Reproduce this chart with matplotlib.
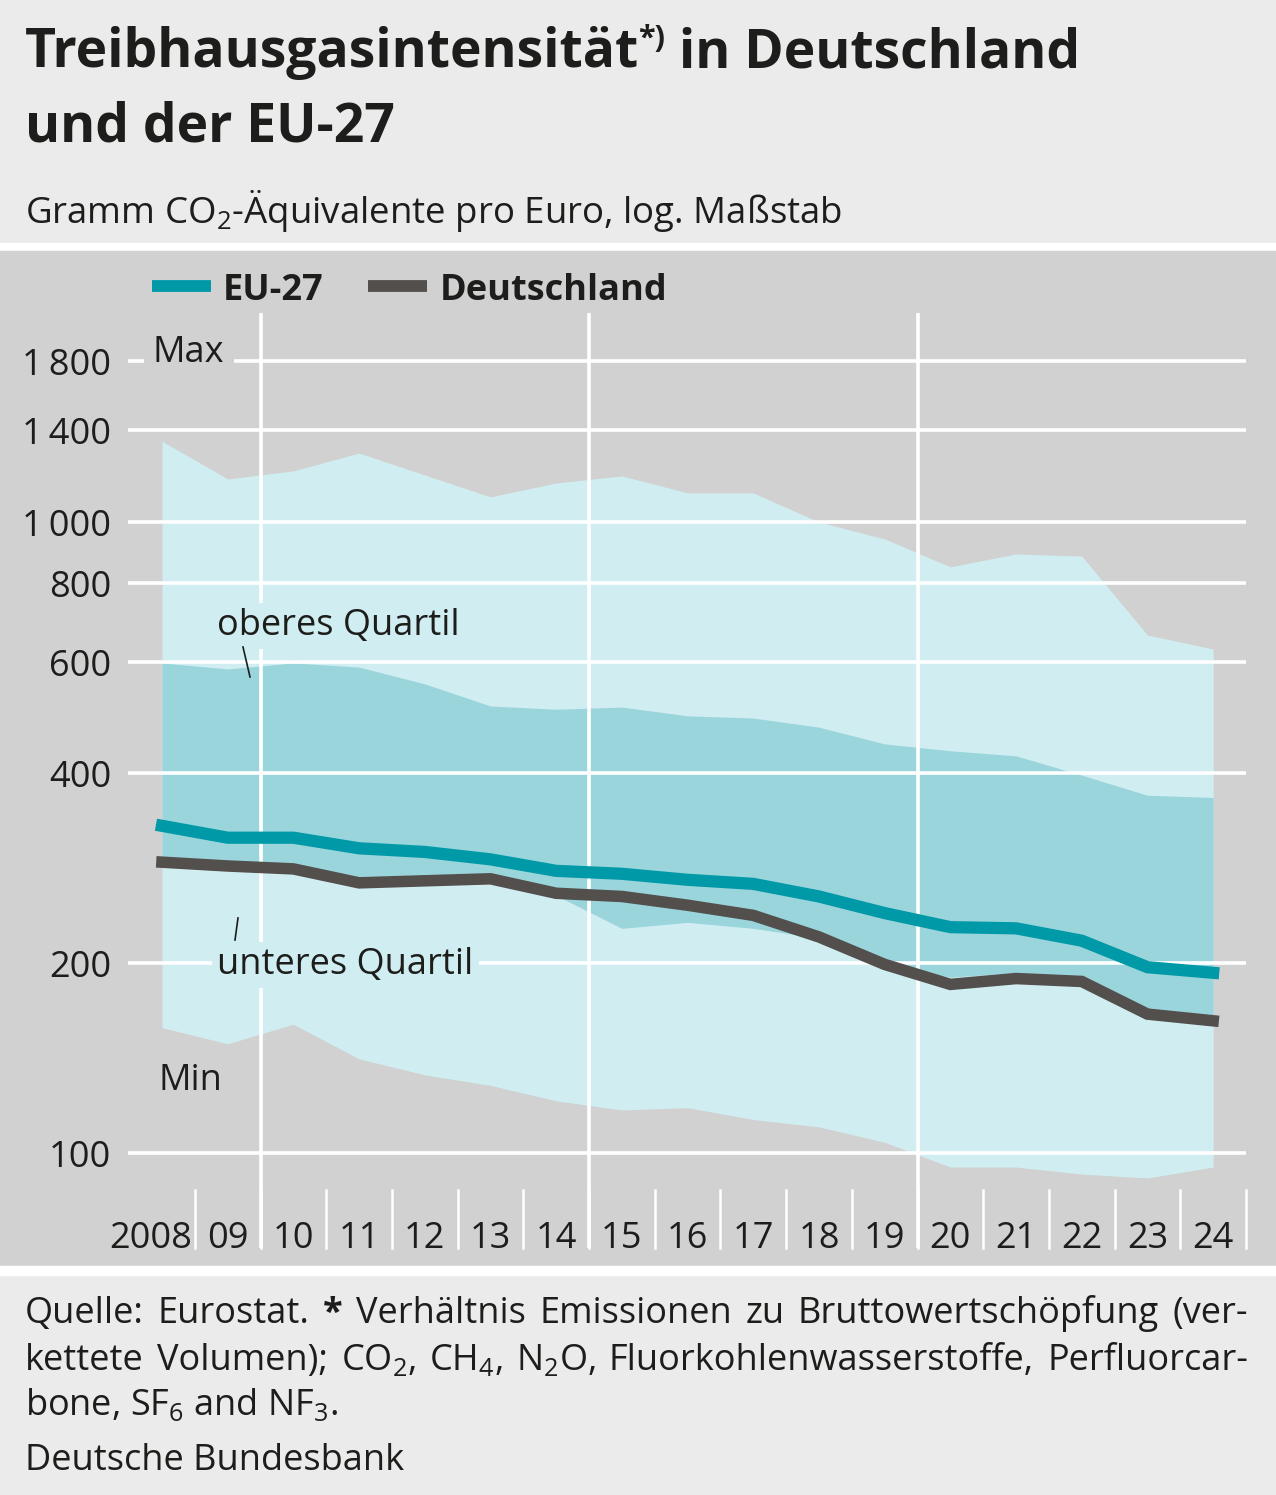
import numpy as np
import matplotlib
matplotlib.use("Agg")
import matplotlib.pyplot as plt
from matplotlib.patches import Rectangle
from matplotlib.lines import Line2D

plt.rcParams['font.family'] = ['Open Sans', 'DejaVu Sans']
plt.rcParams['mathtext.default'] = 'regular'

# data (Gramm CO2-Aequivalente pro Euro)
years = np.arange(2008, 2025)
eu27 = [330, 316, 316, 304, 300, 292, 280, 277, 271, 267, 255, 240, 228, 227, 217, 197, 193]
de = [289, 285, 282, 268, 270, 272, 258, 255, 247, 238, 220, 199, 185, 189, 187, 166, 162]
q_max = [1343, 1170, 1205, 1286, 1187, 1096, 1153, 1183, 1112, 1112, 1000, 940, 849, 890, 883, 662, 629]
q_upper = [598, 585, 598, 589, 554, 511, 505, 509, 493, 489, 473, 445, 434, 426, 397, 369, 366]
q_lower = [288, 284, 281, 267, 269, 271, 256, 227, 232, 227, 219, 198, 190, 193, 186, 165, 161]
q_min = [158, 149, 160, 141, 133, 128, 121, 117, 118, 113, 110, 104, 95, 95, 92.6, 91.3, 95]
yticks = [100, 200, 400, 600, 800, 1000, 1400, 1800]
ytick_labels = ['100', '200', '400', '600', '800', '1\u2009000', '1\u2009400', '1\u2009800']
xlabels = ['2008', '09', '10', '11', '12', '13', '14', '15', '16', '17', '18', '19',
           '20', '21', '22', '23', '24']

W, H = 1276, 1495
C_HEAD = '#ebebeb'
C_PANEL = '#d1d1d1'
C_LIGHT = '#d0eef1'
C_DARK = '#9bd5dc'
C_EU = '#0099a7'
C_DE = '#524f4d'
C_TXT = '#1d1d1b'
FS = 26

fig = plt.figure(figsize=(W / 100, H / 100), dpi=100)
fig.patch.set_facecolor(C_HEAD)


def fx(x):
    return x / W


def fy(y):
    return 1 - y / H


# background bands
fig.add_artist(Rectangle((0, fy(251)), 1, (251 - 243) / H, transform=fig.transFigure, color='white', zorder=0))
fig.add_artist(Rectangle((0, fy(1266)), 1, (1266 - 251) / H, transform=fig.transFigure, color=C_PANEL, zorder=0))
fig.add_artist(Rectangle((0, fy(1275)), 1, (1275 - 1266) / H, transform=fig.transFigure, color='white', zorder=0))

# title
r = fig.canvas.get_renderer()
t1 = fig.text(fx(25), fy(67), 'Treibhausgasintensität', fontsize=38.5, fontweight='bold',
              color=C_TXT, va='baseline')
bb = t1.get_window_extent(r)
t2 = fig.text(bb.x1 / W - 0.001, fy(47), '*)', fontsize=22, fontweight='bold', color=C_TXT, va='baseline')
bb2 = t2.get_window_extent(r)
fig.text(bb2.x1 / W, fy(67), ' in Deutschland', fontsize=38.5, fontweight='bold',
         color=C_TXT, va='baseline')
fig.text(fx(25), fy(142), 'und der EU-27', fontsize=38.5, fontweight='bold', color=C_TXT, va='baseline')
fig.text(fx(25), fy(223), 'Gramm CO$_{2}$-Äquivalente pro Euro, log. Maßstab', fontsize=26.4,
         color=C_TXT, va='baseline')

# legend
fig.add_artist(Line2D([fx(152), fx(211)], [fy(286), fy(286)], color=C_EU, lw=8.5, solid_capstyle='butt'))
fig.text(fx(223), fy(300), 'EU-27', fontsize=FS, fontweight='bold', color=C_TXT, va='baseline')
fig.add_artist(Line2D([fx(368), fx(427)], [fy(286), fy(286)], color=C_DE, lw=8.5, solid_capstyle='butt'))
fig.text(fx(440), fy(300), 'Deutschland', fontsize=FS, fontweight='bold', color=C_TXT, va='baseline')

# axes: x pixels 128..1246, y pixels 313..1248
ax = fig.add_axes([fx(128), fy(1248), (1246 - 128) / W, (1248 - 313) / H])
ax.set_yscale('log')
ax.set_xlim(2007.483, 2024.5)
ax.set_ylim(10 ** ((1153 - 1248) / 631) * 100, 10 ** ((1153 - 313) / 631) * 100)
ax.axis('off')

ax.fill_between(years, q_min, q_max, color=C_LIGHT, lw=0, zorder=1)
ax.fill_between(years, q_lower, q_upper, color=C_DARK, lw=0, zorder=2)

y_tick_top = 10 ** ((1153 - 1190) / 631) * 100
for v in yticks:
    ax.axhline(v, color='white', lw=2.6, zorder=3)
for xv in [2009.5, 2014.5, 2019.5]:
    ax.axvline(xv, color='white', lw=2.6, zorder=3)
for xv in np.arange(2008.5, 2025, 1.0):
    ax.plot([xv, xv], [ax.get_ylim()[0], y_tick_top], color='white', lw=1.8, zorder=3,
            clip_on=False)

ax.plot(years, eu27, color=C_EU, lw=8.8, zorder=5, solid_joinstyle='miter')
ax.plot(years, de, color=C_DE, lw=8.3, zorder=5, solid_joinstyle='miter')

# y labels
for v, lab in zip(yticks, ytick_labels):
    fig.text(fx(111), fy(1153 - 631 * np.log10(v / 100) + 14), lab, fontsize=FS, color=C_TXT,
             ha='right', va='baseline')

# x labels
for yr, lab in zip(years, xlabels):
    if lab == '2008':
        fig.text(fx(192), fy(1248), lab, fontsize=FS, color=C_TXT, ha='right', va='baseline', zorder=6)
    else:
        fig.text(fx(162 + (yr - 2008) * 65.7), fy(1248), lab, fontsize=FS, color=C_TXT,
                 ha='center', va='baseline', zorder=6)

# annotations
fig.text(fx(153), fy(362), 'Max', fontsize=FS, color=C_TXT, va='baseline', zorder=6,
         bbox=dict(boxstyle='square,pad=0.25', fc=C_PANEL, ec='none'))
fig.text(fx(217), fy(635), 'oberes Quartil', fontsize=FS, color=C_TXT, va='baseline', zorder=6,
         bbox=dict(boxstyle='square,pad=0.15', fc=C_LIGHT, ec='none'))
fig.add_artist(Line2D([fx(243), fx(250)], [fy(647), fy(677)], color=C_TXT, lw=1.2, zorder=7))
fig.text(fx(217), fy(974), 'unteres Quartil', fontsize=FS, color=C_TXT, va='baseline', zorder=6,
         bbox=dict(boxstyle='square,pad=0.15', fc=C_LIGHT, ec='none'))
fig.add_artist(Line2D([fx(238), fx(235)], [fy(918), fy(940)], color=C_TXT, lw=1.2, zorder=7))
fig.text(fx(158), fy(1090), 'Min', fontsize=FS, color=C_TXT, va='baseline', zorder=6)


# footer with justified lines
def justify(words, y, x0, x1):
    arts = []
    for w, wt in words:
        arts.append(fig.text(0, fy(y), w, fontsize=FS, fontweight=wt, color=C_TXT, va='baseline'))
    widths = [a.get_window_extent(r).width for a in arts]
    gap = (x1 - x0 - sum(widths)) / (len(arts) - 1)
    x = x0
    for a, wd in zip(arts, widths):
        a.set_x(fx(x))
        x += wd + gap


line1 = [('Quelle:', 'normal'), ('Eurostat.', 'normal'), ('*', 'bold'), ('Verhältnis', 'normal'),
         ('Emissionen', 'normal'), ('zu', 'normal'), ('Bruttowertschöpfung', 'normal'), ('(ver-', 'normal')]
line2 = [('kettete', 'normal'), ('Volumen);', 'normal'), ('CO$_{2}$,', 'normal'), ('CH$_{4}$,', 'normal'),
         ('N$_{2}$O,', 'normal'), ('Fluorkohlenwasserstoffe,', 'normal'), ('Perfluorcar-', 'normal')]
justify(line1, 1323, 25, 1248)
justify(line2, 1370, 25, 1248)
fig.text(fx(25), fy(1415), 'bone, SF$_{6}$ and NF$_{3}$.', fontsize=FS, color=C_TXT, va='baseline')
fig.text(fx(25), fy(1470), 'Deutsche Bundesbank', fontsize=FS, color=C_TXT, va='baseline')

fig.savefig('out.png', dpi=100, facecolor=fig.get_facecolor())
